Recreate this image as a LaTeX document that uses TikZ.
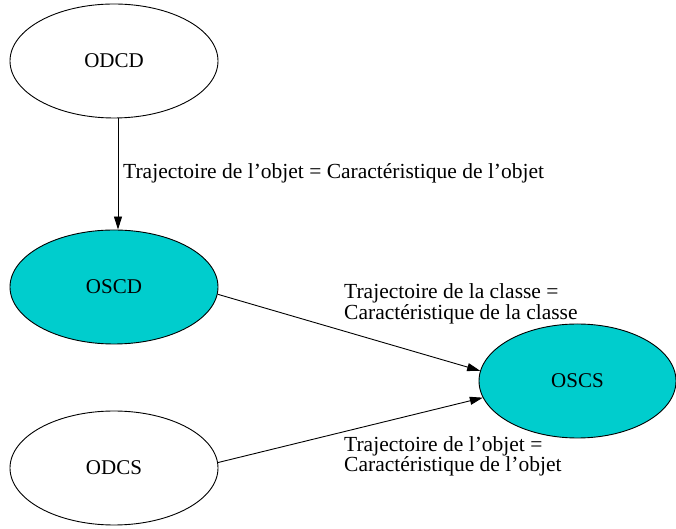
\documentclass[tikz,border=0pt]{standalone}
\usepackage{fontspec}
\setmainfont{Liberation Serif}
\usetikzlibrary{shapes.geometric,arrows.meta}
\definecolor{nodecyan}{HTML}{00CDCD}
\begin{document}
\begin{tikzpicture}[x=1pt,y=1pt,
  state/.style={ellipse,draw,line width=0.9pt,inner sep=0pt,minimum width=208pt,minimum height=114pt,font=\fontsize{21}{22}\selectfont},
  filledstate/.style={state,fill=nodecyan},
  edge/.style={line width=0.9pt,-{Triangle[length=13pt,width=8pt]}},
  elabel/.style={anchor=west,align=left,inner sep=0pt,font=\fontsize{21.5}{19}\selectfont}]
\useasboundingbox (0,0) rectangle (676,529);
\node[state] (ODCD) at (114,468) {ODCD};
\node[filledstate] (OSCD) at (114,242) {OSCD};
\node[state] (ODCS) at (114,61) {ODCS};
\node[filledstate,minimum width=197pt] (OSCS) at (577.5,148) {OSCS};
\draw[edge] ([xshift=4pt]ODCD.south) -- ([xshift=4pt]OSCD.north);
\draw[edge] (OSCD.-4) -- (OSCS.174);
\draw[edge] (ODCS.3) -- (OSCS.190);
\node[elabel] (L1) at (123,356) {Trajectoire de l’objet = Caractéristique de l’objet};
\node[elabel] (L2) at (344,225) {Trajectoire de la classe =\\Caractéristique de la classe};
\node[elabel] (L3) at (344,72.5) {Trajectoire de l’objet =\\Caractéristique de l’objet};
\end{tikzpicture}
\end{document}
